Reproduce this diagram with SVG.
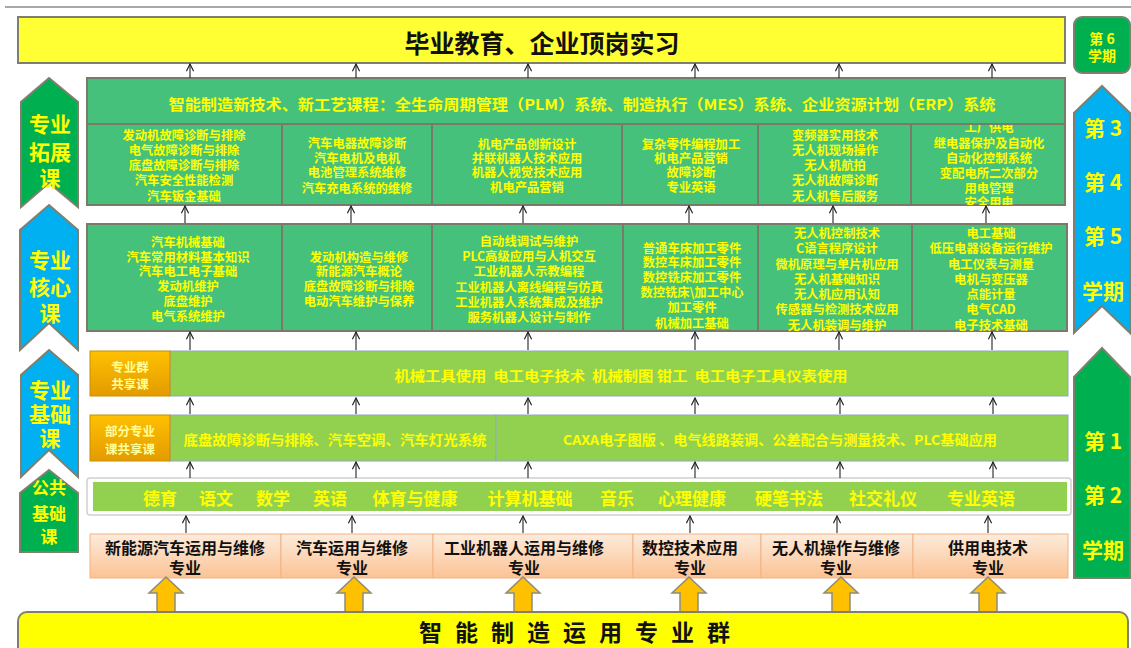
<svg xmlns="http://www.w3.org/2000/svg" width="1131" height="648" viewBox="0 0 1131 648">
<defs>
<style>
.cn{font-family:"Noto Sans CJK SC","Noto Sans",sans-serif;font-weight:bold}
.y{fill:#FFFF00}
.k{fill:#111}
.row{fill:#46C17B;stroke:#7A7A6A;stroke-width:2}
.band{fill:#92D050;stroke:#8FA8C8;stroke-width:1}
.lab{fill:url(#og);stroke:#C89000;stroke-width:1}
.maj{fill:url(#pg);stroke:#F4B183;stroke-width:1}
.chg{fill:#00B050;stroke:#7F7F6F;stroke-width:2}
.chb{fill:#00B0F0;stroke:#7F7F6F;stroke-width:2}
.ar{stroke:#222;stroke-width:1.1;fill:none;marker-end:url(#ah)}
.big{fill:#FFC000;stroke:#8C8C7C;stroke-width:1.5}
.t12{font-size:12.3px}
</style>
<linearGradient id="og" x1="0" y1="0" x2="0" y2="1"><stop offset="0" stop-color="#FFC000"/><stop offset="1" stop-color="#E39B00"/></linearGradient>
<linearGradient id="pg" x1="0" y1="0" x2="0" y2="1"><stop offset="0" stop-color="#FDEBDC"/><stop offset="1" stop-color="#FBC394"/></linearGradient>
<marker id="ah" viewBox="0 0 10 10" refX="9" refY="5" markerWidth="9" markerHeight="9" markerUnits="userSpaceOnUse" orient="auto"><path d="M1,1 L9,5 L1,9" fill="none" stroke="#222" stroke-width="1.3"/></marker>
<clipPath id="c6"><rect x="911" y="124" width="154" height="81"/></clipPath>
</defs>

<line x1="5" y1="7" x2="1131" y2="7" stroke="#A8A8A8" stroke-width="2"/>

<g id="top">
<rect x="18" y="17" width="1047" height="46" fill="#FFFF33" stroke="#7F7F6F" stroke-width="2"/>
<text class="cn k" x="542" y="42" font-size="25" text-anchor="middle" dominant-baseline="central">毕业教育、企业顶岗实习</text>
</g>

<g id="row1">
<rect class="row" x="87" y="124" width="195" height="81"/>
<rect class="row" x="282" y="124" width="150" height="81"/>
<rect class="row" x="432" y="124" width="190" height="81"/>
<rect class="row" x="622" y="124" width="136" height="81"/>
<rect class="row" x="758" y="124" width="153" height="81"/>
<rect class="row" x="911" y="124" width="154" height="81"/>
<g class="cn y t12" text-anchor="middle" dominant-baseline="central">
<text x="184" y="135">发动机故障诊断与排除</text>
<text x="184" y="150">电气故障诊断与排除</text>
<text x="184" y="165">底盘故障诊断与排除</text>
<text x="184" y="180">汽车安全性能检测</text>
<text x="184" y="196">汽车钣金基础</text>
<text x="357" y="143">汽车电器故障诊断</text>
<text x="357" y="158">汽车电机及电机</text>
<text x="357" y="172">电池管理系统维修</text>
<text x="357" y="188">汽车充电系统的维修</text>
<text x="527" y="144">机电产品创新设计</text>
<text x="527" y="158">并联机器人技术应用</text>
<text x="527" y="172">机器人视觉技术应用</text>
<text x="527" y="187">机电产品营销</text>
<text x="691" y="144">复杂零件编程加工</text>
<text x="691" y="158">机电产品营销</text>
<text x="691" y="172">故障诊断</text>
<text x="691" y="187">专业英语</text>
<text x="835" y="135">变频器实用技术</text>
<text x="835" y="150">无人机现场操作</text>
<text x="835" y="165">无人机航拍</text>
<text x="835" y="180">无人机故障诊断</text>
<text x="835" y="196">无人机售后服务</text>
<g clip-path="url(#c6)">
<text x="989" y="127">工厂供电</text>
<text x="989" y="143">继电器保护及自动化</text>
<text x="989" y="158">自动化控制系统</text>
<text x="989" y="173">变配电所二次部分</text>
<text x="989" y="188">用电管理</text>
<text x="989" y="202">安全用电</text>
</g>
</g>
</g>

<g id="header">
<rect class="row" x="87" y="78" width="978" height="46" fill="#3DBF77"/>
<text class="cn y" x="582" y="103" font-size="15" text-anchor="middle" dominant-baseline="central" textLength="827" lengthAdjust="spacingAndGlyphs">智能制造新技术、新工艺课程：全生命周期管理（PLM）系统、制造执行（MES）系统、企业资源计划（ERP）系统</text>
</g>

<g id="row2">
<rect class="row" x="87" y="224" width="195" height="107"/>
<rect class="row" x="282" y="224" width="150" height="107"/>
<rect class="row" x="432" y="224" width="191" height="107"/>
<rect class="row" x="623" y="224" width="135" height="107"/>
<rect class="row" x="758" y="224" width="154" height="107"/>
<rect class="row" x="912" y="224" width="155" height="107"/>
<g class="cn y t12" text-anchor="middle" dominant-baseline="central">
<text x="188" y="242">汽车机械基础</text>
<text x="188" y="257">汽车常用材料基本知识</text>
<text x="188" y="271">汽车电工电子基础</text>
<text x="188" y="286">发动机维护</text>
<text x="188" y="301">底盘维护</text>
<text x="188" y="316">电气系统维护</text>
<text x="359" y="257">发动机构造与维修</text>
<text x="359" y="271">新能源汽车概论</text>
<text x="359" y="286">底盘故障诊断与排除</text>
<text x="359" y="301">电动汽车维护与保养</text>
<text x="529" y="241">自动线调试与维护</text>
<text x="529" y="256">PLC高级应用与人机交互</text>
<text x="529" y="271">工业机器人示教编程</text>
<text x="529" y="287">工业机器人离线编程与仿真</text>
<text x="529" y="302">工业机器人系统集成及维护</text>
<text x="529" y="317">服务机器人设计与制作</text>
<text x="692" y="248">普通车床加工零件</text>
<text x="692" y="262">数控车床加工零件</text>
<text x="692" y="277">数控铣床加工零件</text>
<text x="692" y="292">数控铣床\加工中心</text>
<text x="692" y="307">加工零件</text>
<text x="692" y="323">机械加工基础</text>
<text x="837" y="233">无人机控制技术</text>
<text x="837" y="248">C语言程序设计</text>
<text x="837" y="264">微机原理与单片机应用</text>
<text x="837" y="279">无人机基础知识</text>
<text x="837" y="294">无人机应用认知</text>
<text x="837" y="309">传感器与检测技术应用</text>
<text x="837" y="325">无人机装调与维护</text>
<text x="991" y="233">电工基础</text>
<text x="991" y="248">低压电器设备运行维护</text>
<text x="991" y="264">电工仪表与测量</text>
<text x="991" y="279">电机与变压器</text>
<text x="991" y="294">点能计量</text>
<text x="991" y="309">电气CAD</text>
<text x="991" y="325">电子技术基础</text>
</g>
</g>

<g id="band1">
<rect class="band" x="170" y="351" width="898" height="45"/>
<rect class="lab" x="90" y="351" width="80" height="45"/>
<text class="cn" x="130" y="366" font-size="12.5" fill="#FFFF99" text-anchor="middle" dominant-baseline="central">专业群</text>
<text class="cn" x="130" y="383" font-size="12.5" fill="#FFFF99" text-anchor="middle" dominant-baseline="central">共享课</text>
<text class="cn y" x="621" y="375" font-size="13.5" text-anchor="middle" dominant-baseline="central" textLength="453" lengthAdjust="spacingAndGlyphs" xml:space="preserve">机械工具使用  电工电子技术  机械制图 钳工  电工电子工具仪表使用</text>
</g>

<g id="band2">
<rect class="band" x="170" y="415" width="326" height="46"/>
<rect class="band" x="496" y="415" width="572" height="46"/>
<rect class="lab" x="90" y="415" width="80" height="46"/>
<text class="cn" x="130" y="430" font-size="12.5" fill="#FFFF99" text-anchor="middle" dominant-baseline="central">部分专业</text>
<text class="cn" x="130" y="448" font-size="12.5" fill="#FFFF99" text-anchor="middle" dominant-baseline="central">课共享课</text>
<text class="cn y" x="335" y="439" font-size="13.5" text-anchor="middle" dominant-baseline="central" textLength="303" lengthAdjust="spacingAndGlyphs">底盘故障诊断与排除、汽车空调、汽车灯光系统</text>
<text class="cn y" x="780" y="439" font-size="13.5" text-anchor="middle" dominant-baseline="central" textLength="434" lengthAdjust="spacingAndGlyphs">CAXA电子图版 、电气线路装调、公差配合与测量技术、PLC基础应用</text>
</g>

<g id="band3">
<rect x="87" y="478" width="984" height="37" rx="3" fill="#FFFFFF" stroke="#D0D0D0" stroke-width="1.5"/>
<rect x="93" y="482" width="974" height="29" fill="#92D050"/>
<g class="cn y" font-size="17" text-anchor="middle" dominant-baseline="central">
<text x="160" y="497">德育</text>
<text x="216" y="497">语文</text>
<text x="273" y="497">数学</text>
<text x="330" y="497">英语</text>
<text x="415" y="497">体育与健康</text>
<text x="530" y="497">计算机基础</text>
<text x="617" y="497">音乐</text>
<text x="692" y="497">心理健康</text>
<text x="789" y="497">硬笔书法</text>
<text x="883" y="497">社交礼仪</text>
<text x="981" y="497">专业英语</text>
</g>
</g>

<g id="majors">
<rect class="maj" x="90" y="534" width="191" height="44"/>
<rect class="maj" x="281" y="534" width="152" height="44"/>
<rect class="maj" x="433" y="534" width="200" height="44"/>
<rect class="maj" x="633" y="534" width="128" height="44"/>
<rect class="maj" x="761" y="534" width="152" height="44"/>
<rect class="maj" x="913" y="534" width="155" height="44"/>
<g class="cn k" font-size="16" text-anchor="middle" dominant-baseline="central">
<text x="185" y="547">新能源汽车运用与维修</text><text x="185" y="567">专业</text>
<text x="352" y="547">汽车运用与维修</text><text x="352" y="567">专业</text>
<text x="524" y="547">工业机器人运用与维修</text><text x="524" y="567">专业</text>
<text x="690" y="547">数控技术应用</text><text x="690" y="567">专业</text>
<text x="836" y="547">无人机操作与维修</text><text x="836" y="567">专业</text>
<text x="988" y="547">供用电技术</text><text x="988" y="567">专业</text>
</g>
</g>

<g id="bigarrows">
<polygon class="big" points="166,577 183,593 175,593 175,616 157,616 157,593 149,593"/>
<polygon class="big" points="354,577 371,593 363,593 363,616 345,616 345,593 337,593"/>
<polygon class="big" points="523,577 540,593 532,593 532,616 514,616 514,593 506,593"/>
<polygon class="big" points="689,577 706,593 698,593 698,616 680,616 680,593 672,593"/>
<polygon class="big" points="841,577 858,593 850,593 850,616 832,616 832,593 824,593"/>
<polygon class="big" points="988,577 1005,593 997,593 997,616 979,616 979,593 971,593"/>
</g>

<g id="base">
<rect x="18" y="612" width="1110" height="46" rx="9" fill="#FFFF00" stroke="#7F7F6F" stroke-width="2"/>
<text class="cn k" x="581" y="631" font-size="23" letter-spacing="13" text-anchor="middle" dominant-baseline="central">智能制造运用专业群</text>
</g>

<g id="left">
<g id="l1"><polygon class="chg" points="49,78 78,102 78,207 49,183 21,207 21,102"/>
<g class="cn y" font-size="21" text-anchor="middle" dominant-baseline="central"><text x="50" y="123">专业</text><text x="50" y="151">拓展</text><text x="50" y="177">课</text></g></g>
<g id="l2"><polygon class="chb" points="49,205 78,230 78,350 49,323 20,350 20,230"/>
<g class="cn y" font-size="21" text-anchor="middle" dominant-baseline="central"><text x="50" y="259">专业</text><text x="50" y="286">核心</text><text x="50" y="312">课</text></g></g>
<g id="l3"><polygon class="chb" points="49,350 78,375 78,477 49,450 21,477 21,375"/>
<g class="cn y" font-size="21" text-anchor="middle" dominant-baseline="central"><text x="50" y="389">专业</text><text x="50" y="413">基础</text><text x="50" y="437">课</text></g></g>
<g id="l4"><polygon class="chg" points="49,470 78,493 78,552 20,552 20,493"/>
<g class="cn y" font-size="17" text-anchor="middle" dominant-baseline="central"><text x="49" y="486">公共</text><text x="49" y="512">基础</text><text x="49" y="535">课</text></g></g>
</g>

<g id="right">
<g id="r1"><rect x="1074" y="17" width="56" height="56" rx="8" fill="#00B050" stroke="#7F7F6F" stroke-width="2"/>
<g class="cn y" font-size="14" text-anchor="middle" dominant-baseline="central"><text x="1102" y="38" xml:space="preserve">第 6</text><text x="1102" y="55">学期</text></g></g>
<g id="r2"><polygon class="chb" points="1102,86 1130,113 1130,333 1102,306 1074,333 1074,113"/>
<g class="cn y" font-size="21" text-anchor="middle" dominant-baseline="central"><text x="1103" y="127" xml:space="preserve">第 3</text><text x="1103" y="181" xml:space="preserve">第 4</text><text x="1103" y="235" xml:space="preserve">第 5</text><text x="1103" y="290">学期</text></g></g>
<g id="r3"><polygon class="chg" points="1102,348 1130,377 1130,578 1074,578 1074,377"/>
<g class="cn y" font-size="21" text-anchor="middle" dominant-baseline="central"><text x="1103" y="440" xml:space="preserve">第 1</text><text x="1103" y="494" xml:space="preserve">第 2</text><text x="1103" y="549">学期</text></g></g>
</g>

<g id="connectors">
<path class="ar" d="M190,78V64"/><path class="ar" d="M356,78V64"/><path class="ar" d="M528,78V64"/><path class="ar" d="M695,78V64"/><path class="ar" d="M839,78V64"/><path class="ar" d="M992,78V64"/>
<path class="ar" d="M185,223V206"/><path class="ar" d="M351,223V206"/><path class="ar" d="M523,223V206"/><path class="ar" d="M689,223V206"/><path class="ar" d="M833,223V206"/><path class="ar" d="M986,223V206"/>
<path class="ar" d="M190,350V332"/><path class="ar" d="M356,350V332"/><path class="ar" d="M528,350V332"/><path class="ar" d="M695,350V332"/><path class="ar" d="M839,350V332"/><path class="ar" d="M992,350V332"/>
<path class="ar" d="M190,414V398"/><path class="ar" d="M356,414V398"/><path class="ar" d="M528,414V398"/><path class="ar" d="M695,414V398"/><path class="ar" d="M840,414V398"/><path class="ar" d="M993,414V398"/>
<path class="ar" d="M190,478V462"/><path class="ar" d="M356,478V462"/><path class="ar" d="M528,478V462"/><path class="ar" d="M695,478V462"/><path class="ar" d="M840,478V462"/><path class="ar" d="M993,478V462"/>
<path class="ar" d="M186,533V516"/><path class="ar" d="M352,533V516"/><path class="ar" d="M523,533V516"/><path class="ar" d="M690,533V516"/><path class="ar" d="M837,533V516"/><path class="ar" d="M988,533V516"/>
</g>
</svg>
